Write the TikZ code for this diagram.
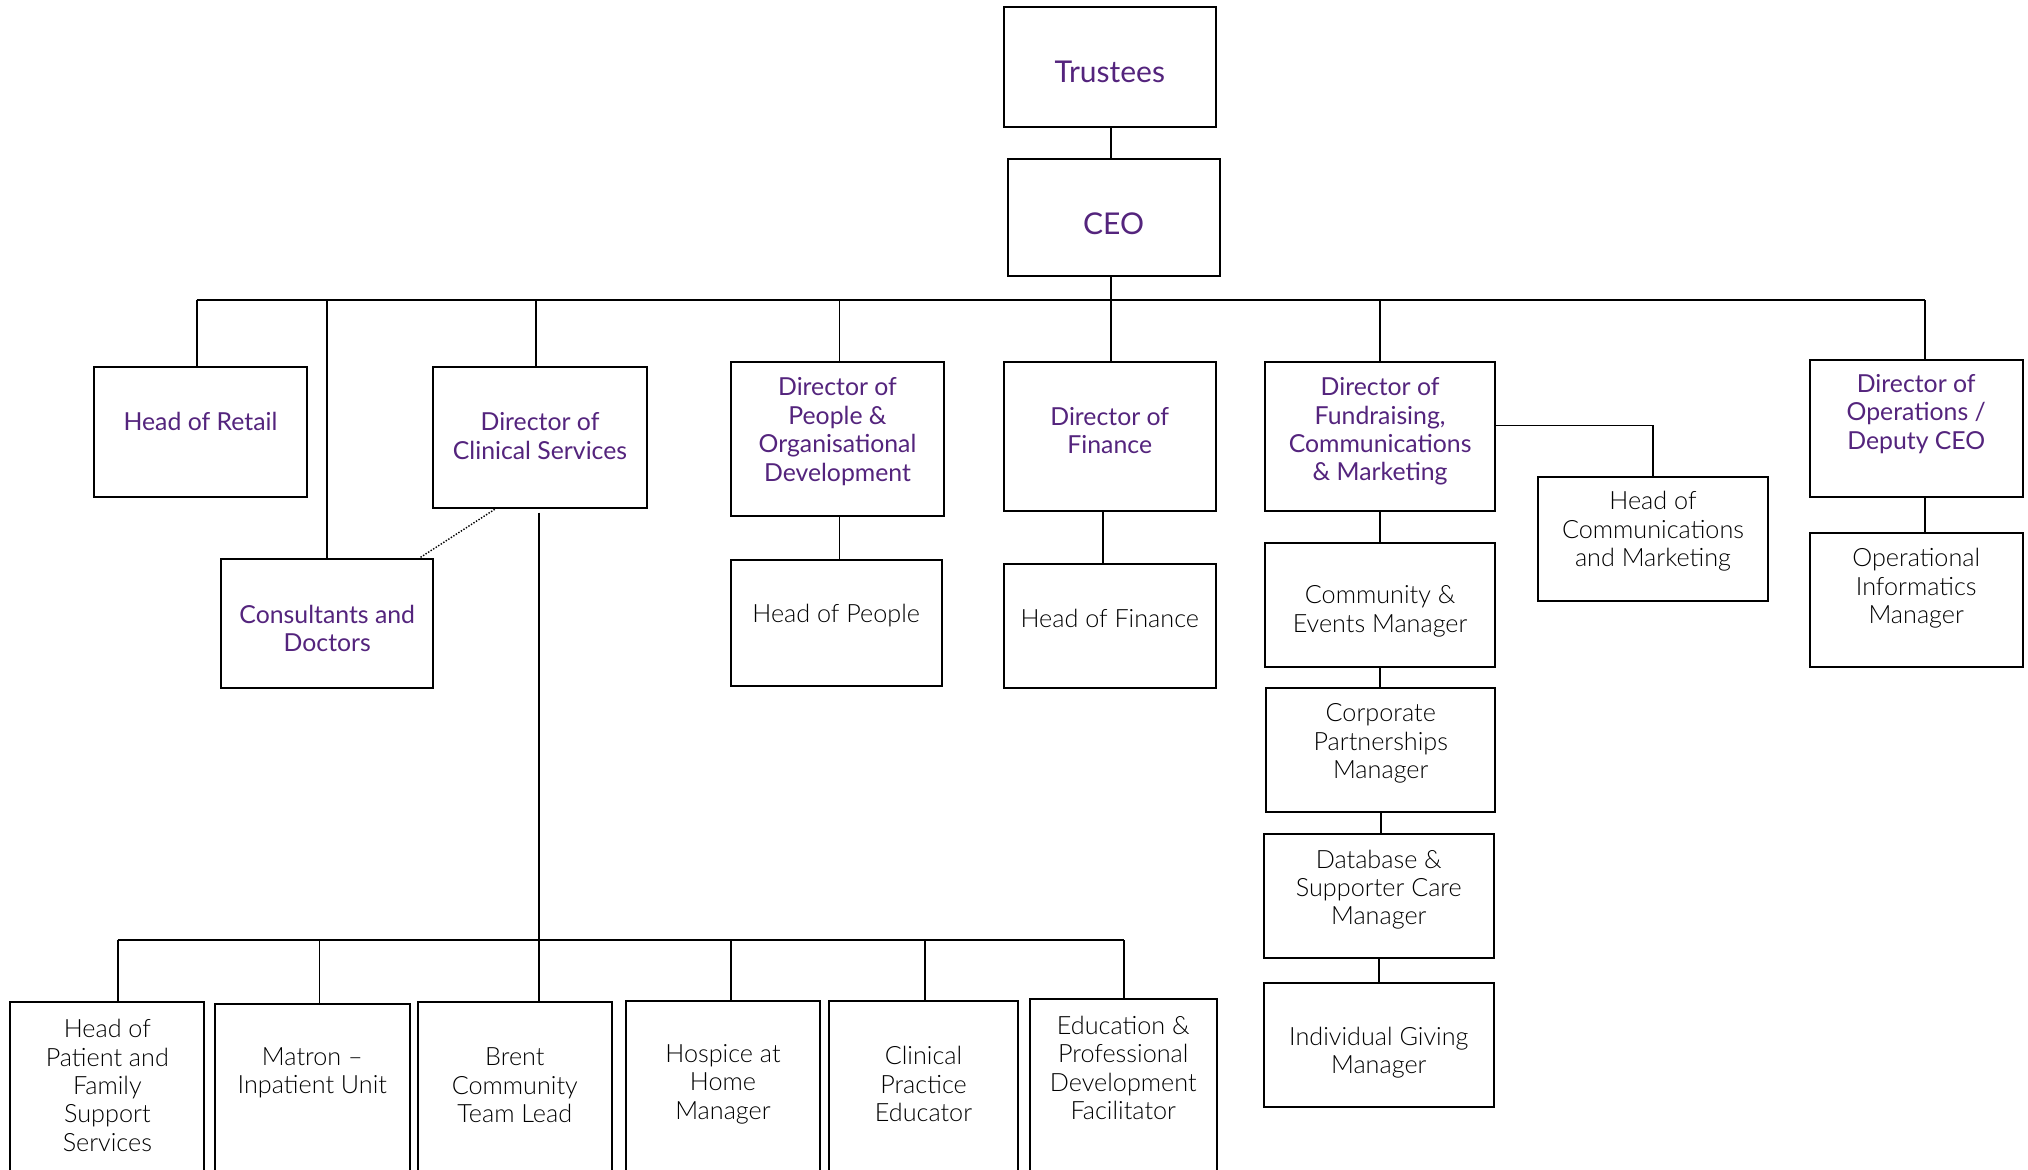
\documentclass[tikz,border=0pt]{standalone}
\usepackage{fontspec}
\setmainfont{Lato}
\IfFontExistsTF{Lato Light}{\newfontfamily\orglight{Lato Light}}{\newfontfamily\orglight{Lato}}
\usetikzlibrary{calc}
\definecolor{orgpurple}{RGB}{84,36,125}
\definecolor{orgtext}{RGB}{0,0,0}
\tikzset{
  boxst/.style={draw=black, line width=1pt, inner sep=0pt, fill=white},
  ptext/.style={text=orgpurple, align=center, inner sep=0pt, font=\fontsize{12.4}{14.2}\selectfont},
  btext/.style={text=orgtext, align=center, inner sep=0pt, font=\orglight\fontsize{12.6}{14.2}\selectfont},
  bigtext/.style={text=orgpurple, align=center, inner sep=0pt, font=\fontsize{15}{17}\selectfont},
  conn/.style={draw=black, line width=0.9pt},
  dotconn/.style={draw=black, line width=0.7pt, dash pattern=on 0.7pt off 0.8pt},
}
% name, x1, y1, x2, y2, text y, text style, text
\newcommand\orgbox[8]{%
  \node[boxst, minimum width={(#4-#2)*0.5pt}, minimum height={(#5-#3)*0.5pt}] (#1) at ({(#2+#4)/2},{(#3+#5)/2}) {};
  \node[#7] (#1-t) at ({(#2+#4)/2},#6) {#8};
}
\begin{document}
\begin{tikzpicture}[x=0.5pt,y=-0.5pt]
\useasboundingbox (0,0) rectangle (2028,1169);
\clip (0,0) rectangle (2028,1169);
\fill[white] (0,0) rectangle (2028,1169);

% top
\orgbox{trustees}{1003.7}{6.5}{1215.8}{126.8}{72}{bigtext}{Trustees}
\orgbox{ceo}{1007.5}{159}{1219.7}{275.5}{223.5}{bigtext}{CEO}

% second row
\orgbox{retail}{94.4}{367.3}{306.5}{496.7}{421.5}{ptext}{Head of Retail}
\orgbox{dcs}{433.3}{367.3}{646.7}{508.3}{436.2}{ptext}{Director of\\Clinical Services}
\orgbox{cons}{221.2}{558.7}{433.3}{688}{628.3}{ptext}{Consultants and\\Doctors}
\orgbox{dpeo}{730.8}{362.2}{944.2}{516.1}{431.5}{ptext}{Director of\\People \&\\Organisational\\Development}
\orgbox{hpeo}{730.8}{560}{941.6}{685.5}{615.5}{btext}{Head of People}
\orgbox{dfin}{1003.7}{362.2}{1215.8}{510.9}{430.5}{ptext}{Director of\\Finance}
\orgbox{hfin}{1003.7}{564}{1215.8}{688}{618}{btext}{Head of Finance}
\orgbox{dfund}{1265}{362.2}{1495.2}{510.9}{431.5}{ptext}{Director of\\Fundraising,\\Communications\\\& Marketing}
\orgbox{hcomms}{1537.9}{477.3}{1768.1}{601.4}{531.5}{btext}{Head of\\Communications\\and Marketing}
\orgbox{comm}{1265}{543.2}{1495.2}{667.4}{611.5}{btext}{Community \&\\Events Manager}
\orgbox{corp}{1266.3}{688}{1495.2}{812.3}{743.5}{btext}{Corporate\\Partnerships\\Manager}
\orgbox{db}{1263.7}{834.2}{1493.9}{958.4}{889.6}{btext}{Database \&\\Supporter Care\\Manager}
\orgbox{ind}{1263.7}{983}{1493.9}{1107.2}{1052.5}{btext}{Individual Giving\\Manager}
\orgbox{dops}{1809.5}{359.6}{2022.9}{496.7}{414}{ptext}{Director of\\Operations /\\Deputy CEO}
\orgbox{opinf}{1809.5}{532.9}{2022.9}{667.4}{588.5}{btext}{Operational\\Informatics\\Manager}

% bottom row
\orgbox{hop}{10.3}{1002.4}{204.4}{1190}{1085.5}{btext}{Head of\\Patient and\\Family\\Support\\Services}
\orgbox{matron}{214.7}{1003.7}{410}{1190}{1072.6}{btext}{Matron –\\Inpatient Unit}
\orgbox{brent}{417.8}{1002.4}{611.8}{1190}{1085.5}{btext}{Brent\\Community\\Team Lead}
\orgbox{hosp}{626}{1001}{820}{1190}{1084}{btext}{Hospice at\\Home\\Manager}
\orgbox{cpe}{829}{1001}{1018}{1190}{1084}{btext}{Clinical\\Practice\\Educator}
\orgbox{edu}{1029.5}{998.5}{1217}{1190}{1068}{btext}{Education \&\\Professional\\Development\\Facilitator}

% x positions of vertical connectors
\coordinate (xTr) at (1111,0);
\coordinate (xPe) at (839.4,0);
\coordinate (xFi) at (1103.3,0);
\coordinate (xBr) at (539,0);
\coordinate (yCo) at (0,425.5);

% connectors: top
\draw[conn] (trustees.south -| xTr) -- (ceo.north -| xTr);
\coordinate (busL) at (196.6,300);
\coordinate (busR) at (1924.6,300);
\coordinate (ceoX) at (1111,300);
\draw[conn] (busL) -- (busR);
\draw[conn] (ceo.south -| ceoX) -- (ceoX) -- (ceoX |- dfin.north);
\draw[conn] (busL) -- (busL |- retail.north);
\draw[conn] (cons.north) -- (cons.north |- busL);
\draw[conn] ([xshift=-2.2pt]dcs.north) -- ([xshift=-2.2pt]dcs.north |- busL);
\draw[conn] (dpeo.north -| xPe) -- (busL -| xPe);
\draw[conn] (dpeo.south -| xPe) -- (hpeo.north -| xPe);
\draw[conn] (dfin.south -| xFi) -- (hfin.north -| xFi);
\draw[conn] (dfund.north) -- (dfund.north |- busL);
\draw[conn] (dfund.south) -- (dfund.south |- comm.north);
\draw[conn] (comm.south) -- (comm.south |- corp.north);
\draw[conn] (corp.south) -- (corp.south |- db.north);
\draw[conn] (db.south) -- (db.south |- ind.north);
\draw[conn] (dfund.east |- yCo) -| (hcomms.north);
\draw[conn] (busR) -- (busR |- dops.north);
\draw[conn] (busR |- dops.south) -- (busR |- opinf.north);

% dotted link
\draw[dotconn] ($(dcs.south west)!0.29!(dcs.south east)$) -- ($(cons.north west)!0.933!(cons.north east)$);

% clinical branch
\coordinate (bbL) at (117.7,940.3);
\coordinate (bbR) at (1124,940.3);
\coordinate (bbM) at (319.5,940.3);
\coordinate (bbH) at (730.8,940.3);
\coordinate (bbC) at (924.8,940.3);
\draw[conn] ([yshift=-1.7pt]dcs.south -| xBr) -- (brent.north -| xBr);
\draw[conn] (bbL) -- (bbR);
\draw[conn] (bbL) -- (bbL |- hop.north);
\draw[conn] (bbM) -- (bbM |- matron.north);
\draw[conn] (bbH) -- (bbH |- hosp.north);
\draw[conn] (bbC) -- (bbC |- cpe.north);
\draw[conn] (bbR) -- (bbR |- edu.north);
\end{tikzpicture}
\end{document}
